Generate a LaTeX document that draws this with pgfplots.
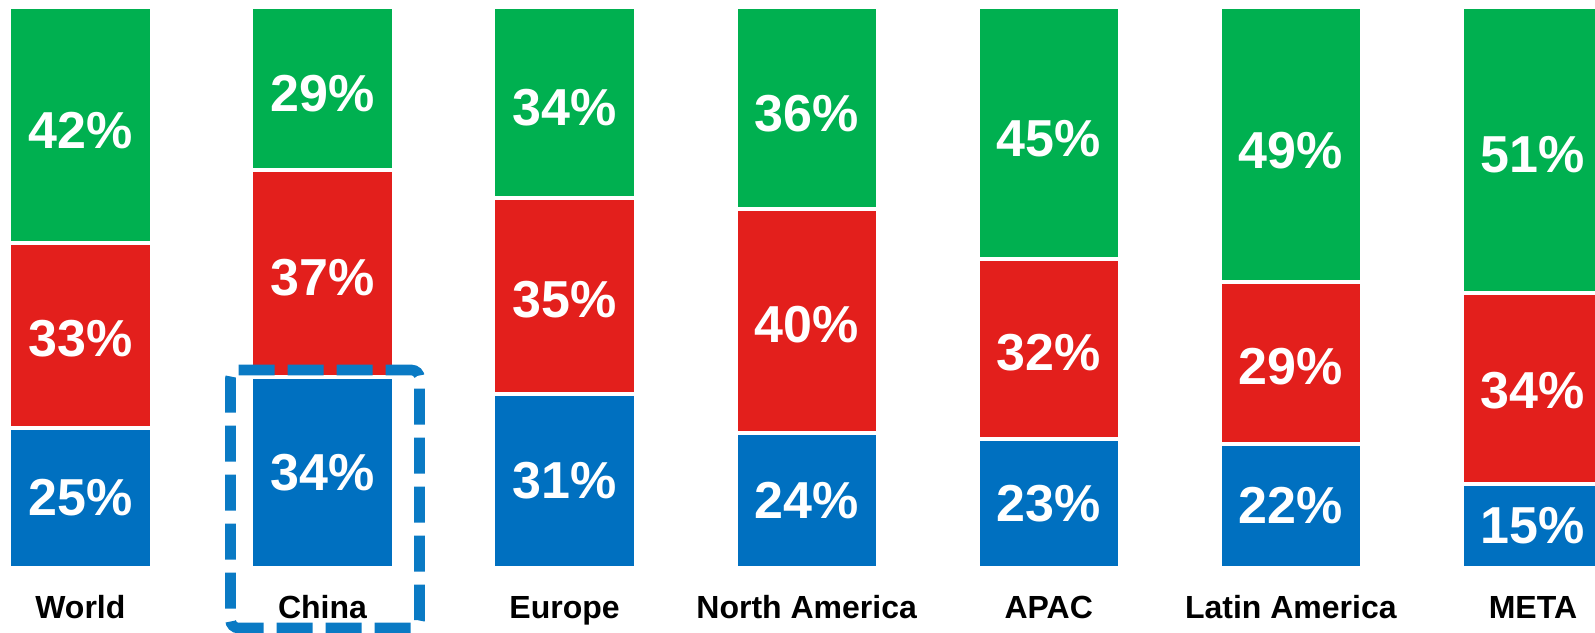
\documentclass[border=0pt]{standalone}
\usepackage{pgfplots}
\usepackage{pgfplotstable}
\pgfplotsset{compat=1.18}
\usepackage{fontspec}
\setmainfont{Liberation Sans}
\definecolor{cgreen}{HTML}{00B050}
\definecolor{cred}{HTML}{E31F1C}
\definecolor{cblue}{HTML}{0070C0}
\definecolor{boxblue}{HTML}{0A7AC4}

% segment values (percent)
\pgfplotstableread{
x v
0 25
1 34
2 31
3 24
4 23
5 22
6 15
}\tblue
\pgfplotstableread{
x v
0 33
1 37
2 35
3 40
4 32
5 29
6 34
}\tred
\pgfplotstableread{
x v
0 42
1 29
2 34
3 36
4 45
5 49
6 51
}\tgreen
% label positions (inside each segment) and label texts
\pgfplotstableread{
x mid lab
0 12.5 25
1 17 34
2 15.5 31
3 12 24
4 11.5 23
5 11 22
6 7.5 15
0 40.8 33
1 51.8 37
2 47.8 35
3 43.3 40
4 38.3 32
5 35.8 29
6 31.5 34
0 78 42
1 84.5 29
2 82 34
3 81 36
4 76.5 45
5 74.5 49
6 73.7 51
}\tlabels

\pgfplotsset{common/.style={
  at={(0,0)}, anchor=south west,
  scale only axis, width=797.5pt, height=316pt,
  xmin=-0.3319, xmax=6.2563,
  ymin=-11.49, ymax=101.285,
  clip=true,
}}

\begin{document}
\begin{tikzpicture}
\useasboundingbox (0,0) rectangle (797.5pt,316pt);
\begin{axis}[
  common,
  ybar stacked, bar width=71.15pt,
  axis line style={draw=none},
  tick style={draw=none},
  ytick=\empty,
  xtick={0,1,2,3,4,5,6},
  xticklabels={World,China,Europe,North America,APAC,Latin America,META},
  xticklabel style={anchor=base, yshift=7pt, font=\bfseries\fontsize{16}{19}\selectfont, text=black},
]
\addplot[fill=cblue, draw=white, line width=2pt] table[x=x, y=v] {\tblue};
\addplot[fill=cred, draw=white, line width=2pt] table[x=x, y=v] {\tred};
\addplot[fill=cgreen, draw=white, line width=2pt] table[x=x, y=v] {\tgreen};
\end{axis}
\begin{axis}[
  common,
  hide axis,
]
\addplot[draw=none, mark=none, point meta=explicit symbolic,
  nodes near coords={\pgfplotspointmeta\%},
  every node near coord/.append style={anchor=center, text=white, font=\bfseries\fontsize{26}{30}\selectfont}]
  table[x=x, y=mid, meta=lab] {\tlabels};
\draw[boxblue, line width=5.3pt, dash pattern=on 18pt off 6.5pt, rounded corners=4pt]
  (axis cs:0.6202,35.26) -- (axis cs:1.4009,35.26) -- (axis cs:1.4009,-10.78) -- (axis cs:0.6202,-10.78) -- cycle;
\end{axis}
\end{tikzpicture}
\end{document}
